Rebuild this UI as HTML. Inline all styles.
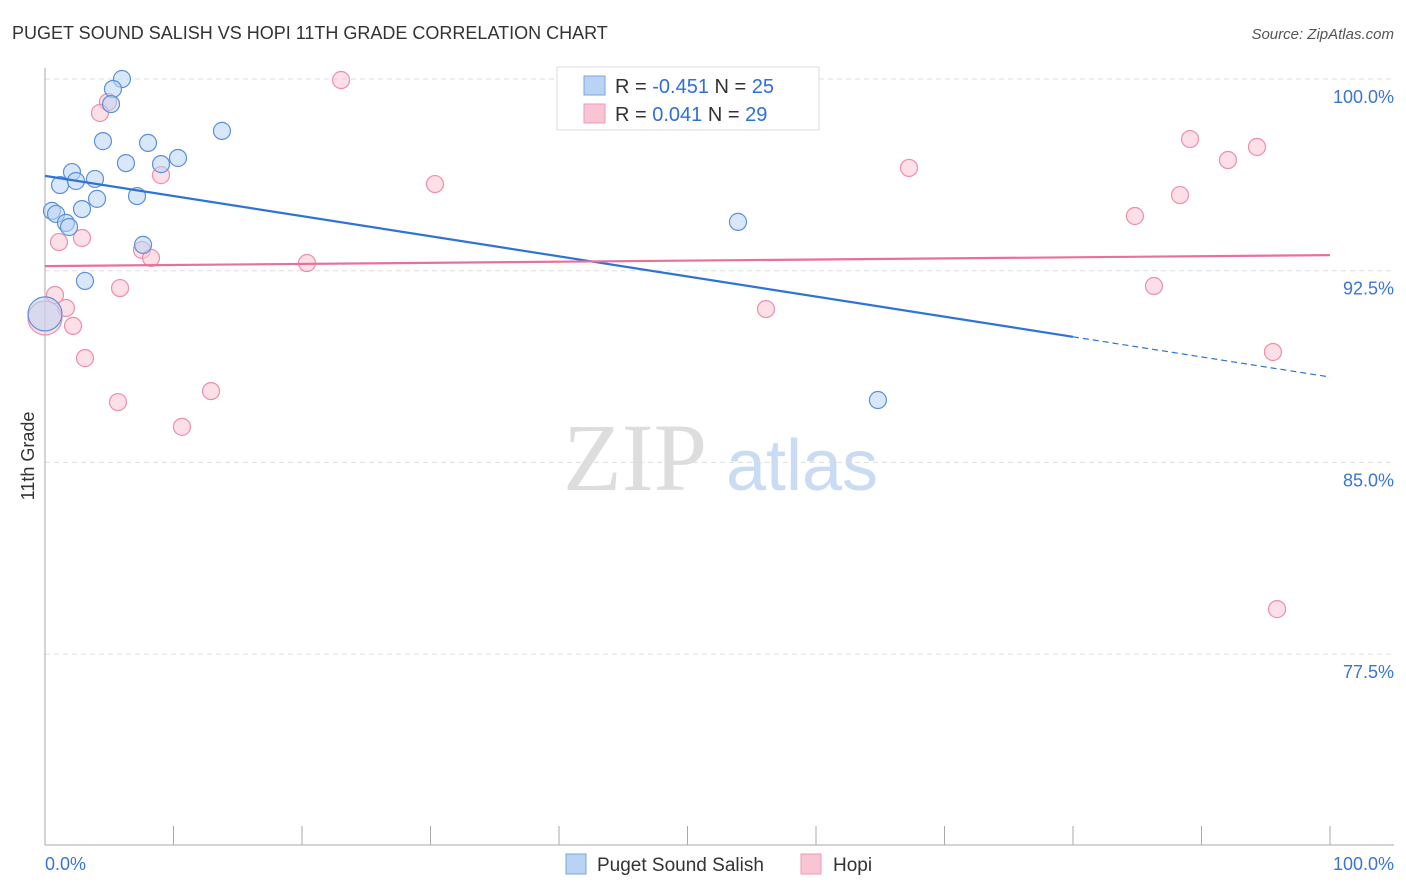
<!DOCTYPE html>
<html><head><meta charset="utf-8"><style>
body{margin:0;background:#fff;font-family:"Liberation Sans",sans-serif;}
#wrap{position:relative;width:1406px;height:892px;overflow:hidden;}
</style></head><body>
<div id="wrap">
<svg id="svg" width="1406" height="892" xmlns="http://www.w3.org/2000/svg" style="position:absolute;left:0;top:0">
<text x="12" y="39" font-size="18" fill="#333">PUGET SOUND SALISH VS HOPI 11TH GRADE CORRELATION CHART</text>
<text x="1394" y="39" font-size="15" fill="#555" text-anchor="end" font-style="italic">Source: ZipAtlas.com</text>
<text x="0" y="0" transform="translate(34,456) rotate(-90)" font-size="18" fill="#333" text-anchor="middle">11th Grade</text>
<text x="635" y="490" font-size="96" fill="#ddd" font-family="Liberation Serif" text-anchor="middle">ZIP</text>
<text x="802" y="490" font-size="72" fill="#c9dcf3" text-anchor="middle">atlas</text>
<g id="grid"></g><g id="pts"></g><g id="lines"></g>
<g>
<rect x="557" y="67" width="262" height="63" fill="#fff" stroke="#ddd"/>
<rect x="584" y="76" width="21" height="19" fill="#b9d3f5" stroke="#7aa6e0"/>
<rect x="584" y="104" width="21" height="19" fill="#f9c5d4" stroke="#ee9ab3"/>
<text x="615" y="93" font-size="20" fill="#333">R = <tspan fill="#2f6fdb">-0.451</tspan>   N = <tspan fill="#2f6fdb">25</tspan></text>
<text x="615" y="121" font-size="20" fill="#333">R =  <tspan fill="#2f6fdb"> 0.041</tspan>   N = <tspan fill="#2f6fdb">29</tspan></text>
</g>
<g>
<rect x="566" y="854" width="20" height="20" fill="#b9d3f5" stroke="#7aa6e0"/>
<text x="597" y="871" font-size="19" fill="#333">Puget Sound Salish</text>
<rect x="801" y="854" width="20" height="20" fill="#f9c5d4" stroke="#ee9ab3"/>
<text x="833" y="871" font-size="19" fill="#333">Hopi</text>
</g>
<text x="45" y="870" font-size="18" fill="#3b74d8">0.0%</text>
<text x="1394" y="870" font-size="18" fill="#3b74d8" text-anchor="end">100.0%</text>
</svg>
</div>
<script>
const yTicks=[100,92.5,85,77.5];
const yTickLabels=["100.0%","92.5%","85.0%","77.5%"];
const blueX=[5.99,5.29,5.14,4.51,8.02,13.77,6.30,9.03,10.35,2.10,1.17,2.41,3.89,7.16,4.05,2.88,0.54,0.86,1.63,1.87,7.63,3.11,53.93,64.82,0];
const blueY=[100.0,99.61,99.02,97.57,97.50,97.97,96.71,96.67,96.91,96.36,95.85,96.01,96.09,95.42,95.31,94.91,94.84,94.72,94.37,94.21,93.51,92.10,94.41,87.44,90.81];
const pinkX=[23.04,4.90,4.28,9.03,30.35,67.24,89.11,92.06,94.32,88.33,84.82,1.09,2.88,7.55,8.25,20.39,5.84,0.78,1.63,2.18,0,86.30,56.11,3.11,95.56,5.68,12.92,10.66,95.88];
const pinkY=[99.96,99.10,98.67,96.24,95.89,96.52,97.65,96.83,97.34,95.46,94.64,93.62,93.78,93.31,93.00,92.80,91.82,91.55,91.04,90.34,90.65,91.90,91.00,89.08,89.32,87.36,87.79,86.39,79.26];
const blueTrend=[96.21,88.34];
const pinkTrend=[92.68,93.11];
const X=v=>45+v*12.85;
const Y=v=>79+(100-v)*25.56;
const NS="http://www.w3.org/2000/svg";
function mk(t,a,p){const e=document.createElementNS(NS,t);for(const k in a)e.setAttribute(k,a[k]);p.appendChild(e);return e;}
const g=document.getElementById('grid');
yTicks.forEach((t,i)=>{
 const l=mk('line',{x1:45,x2:1394,y1:Y(t),y2:Y(t),stroke:'#ddd','stroke-dasharray':'5,4'},g);
 
 
 const tx=mk('text',{x:1394,y:Y(t)+24,'font-size':18,fill:'#3b74d8','text-anchor':'end'},g);
 tx.textContent=yTickLabels[i];
 
 
});
const ax=mk('line',{x1:45,x2:45,y1:68,y2:845,stroke:'#aaa'},g);


const bx=mk('line',{x1:45,x2:1394,y1:845,y2:845,stroke:'#aaa'},g);


for(let i=0;i<=10;i++){const t=mk('line',{x1:X(i*10),x2:X(i*10),y1:826,y2:845,stroke:'#aaa'},g);
 
 }
const P=document.getElementById('pts');
function pts(xs,ys,fill,stroke,name){xs.forEach((x,i)=>{const big=x===0;
 const c=mk('circle',{cx:X(x),cy:Y(ys[i]),r:big?17:8.5,fill:fill,'fill-opacity':0.55,stroke:stroke,'stroke-width':1.2},P);
 
 });}
pts(pinkX,pinkY,'#f9c5d4','#ee8eab','hopi-point');
pts(blueX,blueY,'#b9d3f5','#5b90dc','puget-sound-salish-point');
const L=document.getElementById('lines');
const by=x=>blueTrend[0]+(blueTrend[1]-blueTrend[0])*x/100;
const b1=mk('line',{x1:X(0),y1:Y(by(0)),x2:X(80),y2:Y(by(80)),stroke:'#2f72d8','stroke-width':2.2},L);


const b2=mk('line',{x1:X(80),y1:Y(by(80)),x2:X(100),y2:Y(by(100)),stroke:'#2f72d8','stroke-width':1.2,'stroke-dasharray':'6,4'},L);


const p1=mk('line',{x1:X(0),y1:Y(pinkTrend[0]),x2:X(100),y2:Y(pinkTrend[1]),stroke:'#e8719a','stroke-width':2.2},L);


</script>
</body></html>
